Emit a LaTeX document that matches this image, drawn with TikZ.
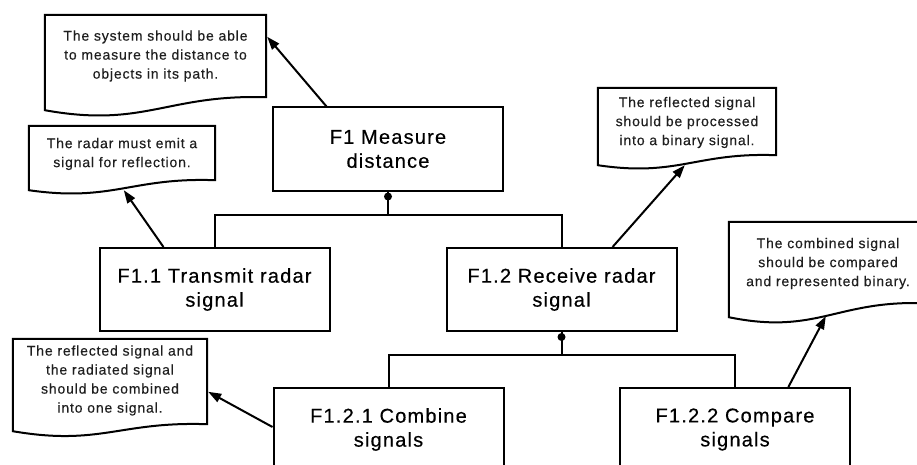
\documentclass[tikz,border=0pt]{standalone}
\usepackage{fontspec}
\setmainfont{Liberation Sans}
\newfontfamily\boxfont[LetterSpace=6,FakeBold=0.4]{Liberation Sans}
\newfontfamily\notefont[LetterSpace=6,FakeBold=0.3]{Liberation Sans}
\usetikzlibrary{arrows.meta,calc}

\tikzset{
  func/.style={draw, line width=2pt, minimum width=230pt, minimum height=83pt,
    inner sep=0pt, align=center, font=\boxfont\fontsize{20}{24}\selectfont},
  notearea/.style={inner sep=0pt},
  notetext/.style={inner sep=0pt, align=center, text=black!88,
    font=\notefont\fontsize{14}{19}\selectfont},
  noteline/.style={draw, line width=2pt, fill=white, line join=miter},
  link/.style={line width=2pt},
  refarrow/.style={line width=2pt, -{Triangle[length=13pt,width=9pt]}},
}

% document-shaped note: right end raised by #2, wave dip #3, bump #4
\newcommand\docoutline[4]{%
  \draw[noteline] ($(#1.south east)+(0,-#2)$) -- (#1.north east) -- (#1.north west)
    -- (#1.south west)
    .. controls ($(#1.south west)!0.45!(#1.south east)+(0,#3)$)
       and ($(#1.south west)!0.55!(#1.south east)+(0,-#2-#4)$)
    .. ($(#1.south east)+(0,-#2)$) -- cycle;
}

\begin{document}
\begin{tikzpicture}[x=1pt,y=-1pt]
\useasboundingbox (0,0) rectangle (917,465);
\clip (0,0) rectangle (917,465);

% function boxes
\node[func] (f1)   at (388,149)   {F1 Measure\\distance};
\node[func] (f11)  at (214.5,289.5) {F1.1 Transmit radar\\signal};
\node[func] (f12)  at (561.5,289.5) {F1.2 Receive radar\\signal};
\node[func] (f121) at (388.5,429.5) {F1.2.1 Combine\\signals};
\node[func] (f122) at (735,429.5)   {F1.2.2 Compare\\signals};

% decomposition buses
\coordinate (bus1) at (0,215);
\coordinate (bus2) at (0,355);
\draw[link] (f1.south) -- (f1.south |- bus1);
\draw[link] (f11.north) -- (f11.north |- bus1) -- (f12.north |- bus1) -- (f12.north);
\fill ($(f1.south)+(0,5)$) circle (4pt);
\draw[link] (f12.south) -- (f12.south |- bus2);
\draw[link] (f121.north) -- (f121.north |- bus2) -- (f122.north |- bus2) -- (f122.north);
\fill ($(f12.south)+(0,5)$) circle (4pt);

% notes
\node[notearea, minimum width=221pt, minimum height=95pt] (n1) at (155.5,62.5) {};
\docoutline{n1}{13}{18}{3}
\node[notetext] (n1t) at ($(n1.center)+(0,-6.5)$) {The system should be able\\to measure the distance to\\objects in its path.};

\node[notearea, minimum width=186pt, minimum height=64pt] (n2) at (122,158) {};
\docoutline{n2}{10}{12}{3}
\node[notetext] (n2t) at ($(n2.center)+(0,-4)$) {The radar must emit a\\signal for reflection.};

\node[notearea, minimum width=178pt, minimum height=77pt] (n3) at (687,126.5) {};
\docoutline{n3}{10}{12}{3}
\node[notetext] (n3t) at ($(n3.center)+(0,-4)$) {The reflected signal\\should be processed\\into a binary signal.};

\node[notearea, minimum width=195pt, minimum height=95pt] (n4) at (826.5,269.5) {};
\docoutline{n4}{14}{18}{3}
\node[notetext] (n4t) at ($(n4.center)+(1.5,-6)$) {The combined signal\\should be compared\\and represented binary.};

\node[notearea, minimum width=194pt, minimum height=92pt] (n5) at (110,385) {};
\docoutline{n5}{7}{15}{3}
\node[notetext] (n5t) at ($(n5.center)+(0,-4.5)$) {The reflected signal and\\the radiated signal\\should be combined\\into one signal.};

% arrow ends on the notes
\coordinate (t1) at ($(n1.north east)+(1,22)$);
\coordinate (t2) at ($(n2.south west)+(95,0)$);
\coordinate (t3) at ($(n3.south west)+(87,0)$);
\coordinate (t4) at ($(n4.south west)+(97,-1)$);
\coordinate (t5) at ($(n5.north east)+(1,53)$);

\draw[refarrow] ($(f1.north west)!0.235!(f1.north east)$) -- (t1);
\draw[refarrow] ($(f11.north west)!0.28!(f11.north east)$) -- (t2);
\draw[refarrow] ($(f12.north west)!0.72!(f12.north east)$) -- (t3);
\draw[refarrow] ($(f122.north west)!0.73!(f122.north east)$) -- (t4);
\draw[refarrow] ($(f121.north west)+(0,40)$) -- (t5);
\end{tikzpicture}
\end{document}
